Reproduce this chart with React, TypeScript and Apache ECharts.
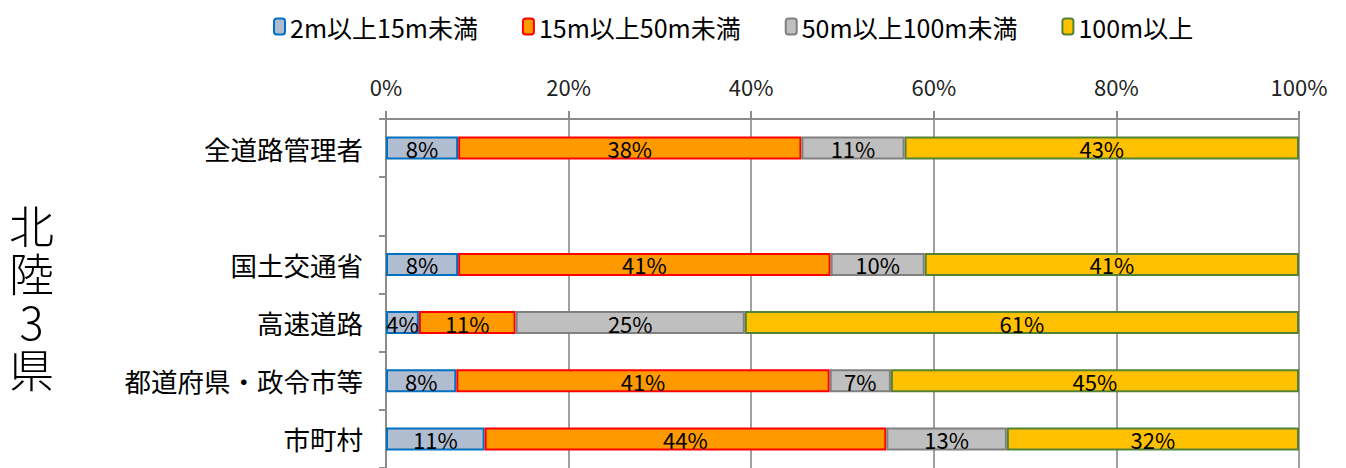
import React, { useEffect, useRef } from "react";
import * as echarts from "echarts";

const categories = ["全道路管理者", "", "国土交通省", "高速道路", "都道府県・政令市等", "市町村"];
const seriesNames = ["2m以上15m未満", "15m以上50m未満", "50m以上100m未満", "100m以上"];
const s1 = [7.9, null, 7.9, 3.6, 7.7, 10.8];
const s2 = [37.6, null, 40.8, 10.6, 40.9, 44.0];
const s3 = [11.3, null, 10.3, 25.1, 6.7, 13.2];
const s4 = [43.2, null, 41.0, 60.7, 44.7, 32.0];
const xTicks = [0, 20, 40, 60, 80, 100];
const sideTitle = "北陸3県";

const fills = ["#B0BCD0", "#FF9900", "#BFBFBF", "#FFC000"];
const borders = ["#0070C0", "#FF0000", "#808080", "#548235"];

const FONT = "'Noto Sans CJK JP', 'Noto Sans', sans-serif";

export default function App() {
  const ref = useRef<HTMLDivElement>(null);
  useEffect(() => {
    if (!ref.current) return;
    const chart = echarts.init(ref.current, null, { renderer: "svg" });
    const data = [s1, s2, s3, s4];
    chart.setOption({
      animation: false,
      backgroundColor: "#ffffff",
      textStyle: { fontFamily: FONT },
      legend: {
        top: 9,
        left: 268,
        itemWidth: 11,
        itemHeight: 16,
        itemGap: 44,
        textStyle: { fontSize: 25, color: "#000", fontFamily: FONT },
        data: seriesNames.map((n, i) => ({
          name: n,
          itemStyle: { color: fills[i], borderColor: borders[i], borderWidth: 2 },
        })),
      },
      grid: { left: 386, right: 47, top: 119, bottom: -5, containLabel: false },
      xAxis: {
        type: "value",
        position: "top",
        min: 0,
        max: 100,
        interval: 20,
        axisLine: { show: true, lineStyle: { color: "#8C8C8C", width: 2 } },
        axisTick: { show: true, length: 8, lineStyle: { color: "#8C8C8C", width: 2 } },
        axisLabel: {
          formatter: (v: number) => (xTicks.includes(v) ? v + "%" : ""),
          fontSize: 22,
          color: "#222",
          margin: 22,
          fontFamily: FONT,
        },
        splitLine: { show: true, lineStyle: { color: "#A0A0A0", width: 2 } },
      },
      yAxis: {
        type: "category",
        inverse: true,
        data: categories,
        axisLine: { show: true, lineStyle: { color: "#8C8C8C", width: 2 } },
        axisTick: { show: true, length: 7, lineStyle: { color: "#8C8C8C", width: 2 } },
        axisLabel: { fontSize: 26.5, color: "#000", margin: 23, fontFamily: FONT },
      },
      series: data.map((d, i) => ({
        name: seriesNames[i],
        type: "bar",
        stack: "total",
        barWidth: 23,
        data: d,
        itemStyle: { color: fills[i], borderColor: borders[i], borderWidth: 2 },
        label: {
          show: true,
          position: "inside",
          formatter: (p: any) => (p.value == null ? "" : Math.round(p.value) + "%"),
          fontSize: 22,
          color: "#000",
          fontFamily: FONT,
        },
      })),
    });
    return () => chart.dispose();
  }, []);
  return (
    <div style={{ position: "fixed", left: 0, top: 0, width: 1346, height: 468, background: "#fff" }}>
      <div ref={ref} style={{ position: "absolute", left: 0, top: 0, width: 1346, height: 468 }} />
      <div
        style={{
          position: "absolute",
          left: 8,
          top: 204,
          writingMode: "vertical-rl",
          textOrientation: "upright",
          fontFamily: FONT,
          fontSize: 45,
          fontWeight: 300,
          lineHeight: "46px",
          letterSpacing: "3px",
          color: "#000",
        }}
      >
        {sideTitle}
      </div>
    </div>
  );
}
